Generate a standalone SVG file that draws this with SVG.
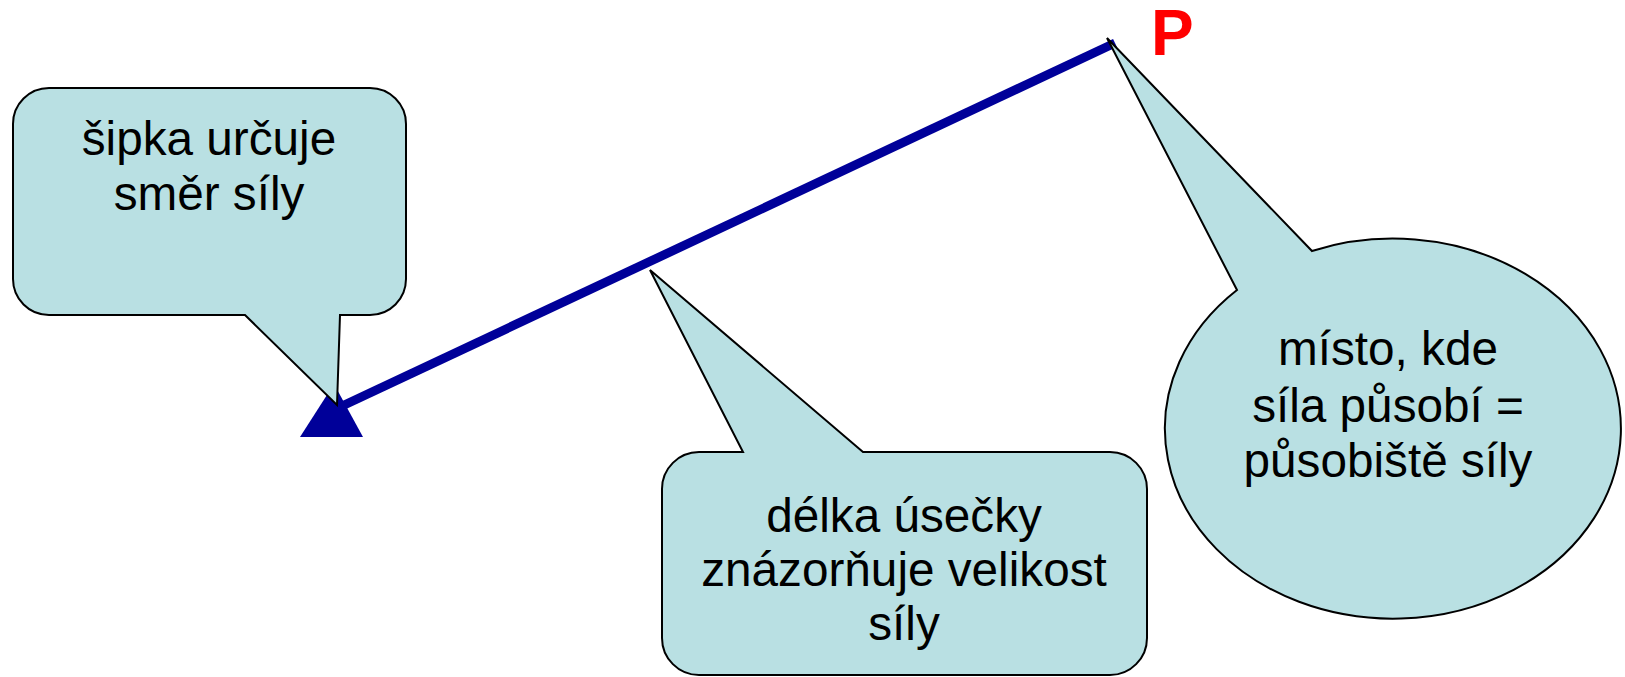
<svg xmlns="http://www.w3.org/2000/svg" width="1625" height="677" viewBox="0 0 1625 677">
<style>
.callout{fill:#B9E0E3;stroke:#000;stroke-width:2;stroke-linejoin:miter}
.t{font-family:"Liberation Sans",Arial,sans-serif;font-size:47.7px;fill:#000;text-anchor:middle}
</style>
<rect width="1625" height="677" fill="#fff"/>
<g id="connectors">
<line x1="1115" y1="43" x2="340" y2="407" stroke="#000099" stroke-width="9"/>
<polygon points="300,437 363,437 334,384" fill="#000099"/>
</g>
<g id="callout-direction">
<path class="callout" d="M49,88 H370 A36,36 0 0 1 406,124 V279 A36,36 0 0 1 370,315 H340 L337,405 L245,315 H49 A36,36 0 0 1 13,279 V124 A36,36 0 0 1 49,88 Z"/>
<text class="t" x="209" y="155">šipka určuje</text>
<text class="t" x="209" y="210">směr síly</text>
</g>
<g id="callout-length">
<path class="callout" d="M699,452 H743 L650,270 L863,452 H1110 A37,37 0 0 1 1147,489 V638 A37,37 0 0 1 1110,675 H699 A37,37 0 0 1 662,638 V489 A37,37 0 0 1 699,452 Z"/>
<text class="t" x="904" y="532">délka úsečky</text>
<text class="t" x="904" y="586">znázorňuje velikost</text>
<text class="t" x="904" y="640">síly</text>
</g>
<g id="callout-point">
<path class="callout" d="M1237,290 L1107,38 L1312,251 A228,190 0 1 1 1237,290 Z"/>
<text class="t" x="1388" y="365">místo, kde</text>
<text class="t" x="1388" y="422">síla působí =</text>
<text class="t" x="1388" y="477">působiště síly</text>
</g>
<g id="label-P">
<text x="1151" y="55" font-family="'Liberation Sans',Arial,sans-serif" font-size="64" font-weight="bold" fill="#FF0000">P</text>
</g>
</svg>
